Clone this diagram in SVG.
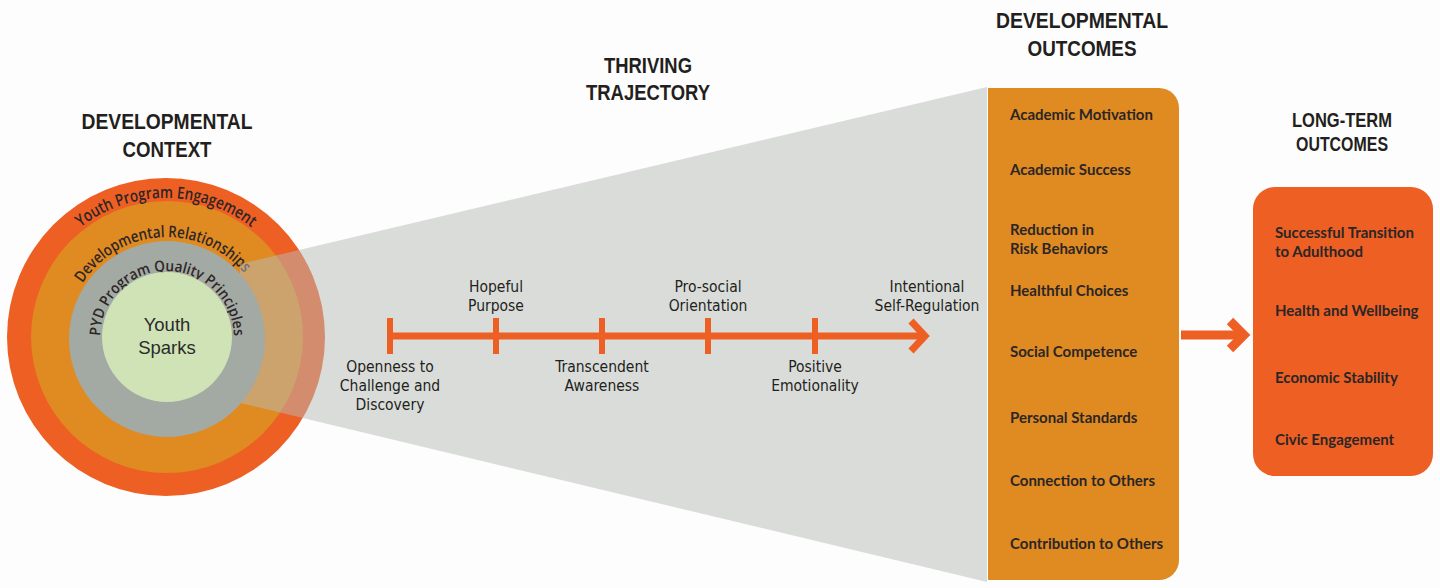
<svg xmlns="http://www.w3.org/2000/svg" xmlns:xlink="http://www.w3.org/1999/xlink" width="1440" height="588" viewBox="0 0 1440 588">
<style>
.hd{font-family:"Liberation Sans",Arial,sans-serif;font-weight:bold;font-size:22.5px;fill:#231f20;text-anchor:middle}
.hd2{font-size:20px}
.tl{font-family:"Liberation Sans Narrow","DejaVu Sans Condensed","Liberation Sans",sans-serif;font-stretch:condensed;font-size:15.5px;fill:#231f20;text-anchor:middle}
.bx{font-family:Lato,"Open Sans",sans-serif;font-weight:bold;font-size:15px;fill:#2b2626}
.ring{font-family:"Open Sans",Lato,sans-serif;font-weight:600;fill:#2e2626}
.sp{font-family:"Liberation Sans",Arial,sans-serif;font-size:18.5px;fill:#2b2b2b;text-anchor:middle}
.ln{stroke:#ee5f24;fill:none}
</style>
<defs>
<path id="arcOuter" d="M 27,337 A 139,139 0 0 1 305,337"/>
<path id="arcMid" d="M 67,337 A 100,100 0 0 1 267,337"/>
<path id="arcIn" d="M 100,338 A 67,67 0 0 1 234,338"/>
</defs>
<rect x="0" y="0" width="1440" height="588" fill="#fdfdfd"/>

<g id="developmental-context">
<text class="hd" x="167" y="129" textLength="171" lengthAdjust="spacingAndGlyphs">DEVELOPMENTAL</text>
<text class="hd" x="167" y="157" textLength="89" lengthAdjust="spacingAndGlyphs">CONTEXT</text>
<circle cx="166" cy="337" r="159" fill="#ee5f24"/>
<circle cx="167" cy="337" r="136" fill="#e08a22"/>
<text class="ring" font-size="16.5"><textPath xlink:href="#arcOuter" startOffset="50%" text-anchor="middle" textLength="184" lengthAdjust="spacingAndGlyphs">Youth Program Engagement</textPath></text>
<text class="ring" font-size="16"><textPath xlink:href="#arcMid" startOffset="48%" text-anchor="middle" textLength="188" lengthAdjust="spacingAndGlyphs">Developmental Relationships</textPath></text>
</g>

<g id="thriving-cone">
<polygon points="240,264 987,87 987,582 240,403" fill="#b8bcb8" fill-opacity="0.5"/>
</g>

<g id="pyd-quality">
<circle cx="167" cy="339" r="98" fill="#a3aaa3"/>
<text class="ring" font-size="15"><textPath xlink:href="#arcIn" startOffset="50%" text-anchor="middle" textLength="206" lengthAdjust="spacingAndGlyphs">PYD Program Quality Principles</textPath></text>
</g>

<g id="youth-sparks">
<circle cx="167" cy="337" r="65" fill="#d0e3b6"/>
<text class="sp" x="167" y="331">Youth</text>
<text class="sp" x="167" y="354">Sparks</text>
</g>

<g id="thriving-trajectory">
<text class="hd" x="648" y="73" textLength="88" lengthAdjust="spacingAndGlyphs">THRIVING</text>
<text class="hd" x="648" y="100" textLength="124" lengthAdjust="spacingAndGlyphs">TRAJECTORY</text>
<g id="trajectory-arrow">
<line class="ln" x1="387" y1="336" x2="922" y2="336" stroke-width="7"/>
<g stroke-width="6">
<line class="ln" x1="390" y1="318" x2="390" y2="354"/>
<line class="ln" x1="496" y1="318" x2="496" y2="354"/>
<line class="ln" x1="602" y1="318" x2="602" y2="354"/>
<line class="ln" x1="708" y1="318" x2="708" y2="354"/>
<line class="ln" x1="815" y1="318" x2="815" y2="354"/>
</g>
<polyline class="ln" points="911,321 925,336 911,351" stroke-width="7"/>
</g>
<text class="tl" x="390" y="372">Openness to</text>
<text class="tl" x="390" y="391">Challenge and</text>
<text class="tl" x="390" y="410">Discovery</text>
<text class="tl" x="496" y="292">Hopeful</text>
<text class="tl" x="496" y="311">Purpose</text>
<text class="tl" x="602" y="372">Transcendent</text>
<text class="tl" x="602" y="391">Awareness</text>
<text class="tl" x="708" y="292">Pro-social</text>
<text class="tl" x="708" y="311">Orientation</text>
<text class="tl" x="815" y="372">Positive</text>
<text class="tl" x="815" y="391">Emotionality</text>
<text class="tl" x="927" y="292">Intentional</text>
<text class="tl" x="927" y="311">Self-Regulation</text>
</g>

<g id="developmental-outcomes">
<text class="hd" x="1082" y="28" textLength="172" lengthAdjust="spacingAndGlyphs">DEVELOPMENTAL</text>
<text class="hd" x="1082" y="56" textLength="109" lengthAdjust="spacingAndGlyphs">OUTCOMES</text>
<path d="M988,88 H1159 A20,20 0 0 1 1179,108 V560 A20,20 0 0 1 1159,580 H988 Z" fill="#e08a22"/>
<text class="bx" x="1010" y="120">Academic Motivation</text>
<text class="bx" x="1010" y="175">Academic Success</text>
<text class="bx" x="1010" y="235">Reduction in</text>
<text class="bx" x="1010" y="254">Risk Behaviors</text>
<text class="bx" x="1010" y="296">Healthful Choices</text>
<text class="bx" x="1010" y="357">Social Competence</text>
<text class="bx" x="1010" y="423">Personal Standards</text>
<text class="bx" x="1010" y="486">Connection to Others</text>
<text class="bx" x="1010" y="549">Contribution to Others</text>
</g>

<g id="connectors">
<line class="ln" x1="1181" y1="335" x2="1242" y2="335" stroke-width="9"/>
<polyline class="ln" points="1230,321 1244,335 1230,349" stroke-width="9"/>
</g>

<g id="long-term-outcomes">
<text class="hd hd2" x="1342" y="127" textLength="100" lengthAdjust="spacingAndGlyphs">LONG-TERM</text>
<text class="hd hd2" x="1342" y="151" textLength="92" lengthAdjust="spacingAndGlyphs">OUTCOMES</text>
<rect x="1253" y="187" width="180" height="289" rx="22" ry="22" fill="#ee5f24"/>
<text class="bx" x="1275" y="238">Successful Transition</text>
<text class="bx" x="1275" y="257">to Adulthood</text>
<text class="bx" x="1275" y="316">Health and Wellbeing</text>
<text class="bx" x="1275" y="383">Economic Stability</text>
<text class="bx" x="1275" y="445">Civic Engagement</text>
</g>
</svg>
